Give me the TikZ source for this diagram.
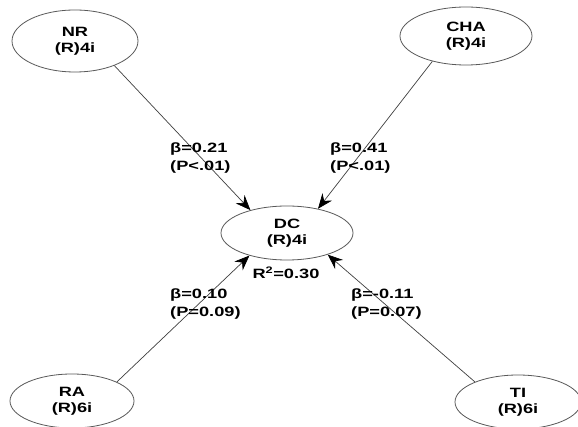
\documentclass[tikz,border=0pt]{standalone}
\usepackage{fontspec}
\setmainfont{Liberation Sans}[FakeStretch=1.35]
\usetikzlibrary{shapes.geometric,arrows.meta}
\begin{document}
\begin{tikzpicture}[x=1pt,y=-1pt,
  lv/.style={ellipse,draw=black!65,line width=0.8pt,inner sep=0pt,align=center,
    font=\bfseries\fontsize{13.5}{16}\selectfont},
  lbl/.style={inner sep=0pt,align=left,anchor=west,
    font=\bfseries\fontsize{13.5}{17.5}\selectfont},
  conn/.style={draw=black!75,line width=0.7pt,
    -{Stealth[length=15pt,width=12pt,inset=5pt,black,fill=black]}}
]
\useasboundingbox (0,0) rectangle (578,427);
\fill[white] (0,0) rectangle (578,427);
\node[lv,minimum width=126pt,minimum height=62pt] (NR) at (75,41) {NR\\(R)4i};
\node[lv,minimum width=132pt,minimum height=58pt] (CHA) at (466,36) {CHA\\(R)4i};
\node[lv,minimum width=132pt,minimum height=54pt] (DC) at (287,233) {DC\\(R)4i};
\node[lv,minimum width=124pt,minimum height=54pt] (RA) at (72,401) {RA\\(R)6i};
\node[lv,minimum width=126pt,minimum height=54pt] (TI) at (518,402) {TI\\(R)6i};

\draw[conn] (NR.-32) -- (DC.148);
\draw[conn] (CHA.-143) -- (DC.38);
\draw[conn] (RA.23) -- (DC.-149);
\draw[conn] (TI.155) -- (DC.-28);

\node[lbl] (l1) at (170,158) {β=0.21\\(P<.01)};
\node[lbl] (l2) at (330,158) {β=0.41\\(P<.01)};
\node[lbl] (l3) at (170,304) {β=0.10\\(P=0.09)};
\node[lbl] (l4) at (351,304) {β=-0.11\\(P=0.07)};
\node[inner sep=0pt,font=\bfseries\fontsize{13.5}{16}\selectfont] (r2) at (286,273) {R\textsuperscript{2}=0.30};
\end{tikzpicture}
\end{document}
